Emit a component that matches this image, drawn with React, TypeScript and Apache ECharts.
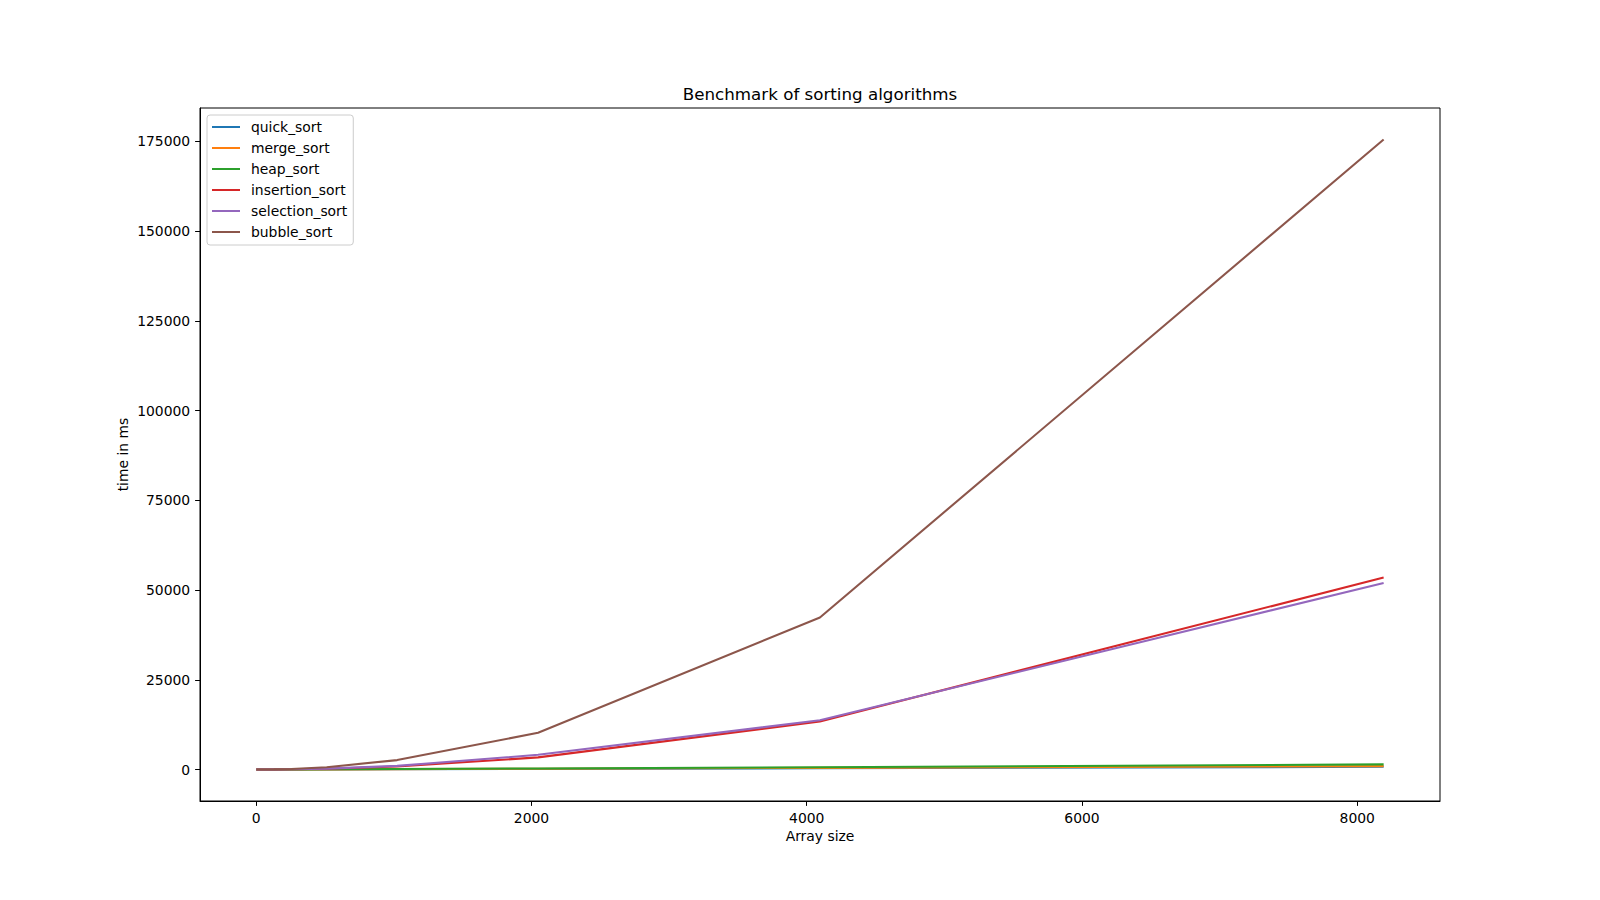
import React, { useEffect, useRef } from "react";
import * as echarts from "echarts";

const arraySizes = [1, 2, 4, 8, 16, 32, 64, 128, 256, 512, 1024, 2048, 4096, 8192];
const quickSort = [0, 0, 0.01, 0.02, 0.05, 0.1, 0.3, 1, 10, 30, 75, 160, 350, 750];
const mergeSort = [0, 0, 0.01, 0.03, 0.08, 0.2, 0.5, 2, 15, 45, 100, 220, 450, 950];
const heapSort = [0, 0, 0.01, 0.04, 0.1, 0.3, 0.8, 3, 20, 60, 140, 300, 650, 1420];
const insertionSort = [0, 0, 0.01, 0.05, 0.2, 0.8, 3, 12, 50, 210, 850, 3370, 13360, 53480];
const selectionSort = [0, 0, 0.01, 0.06, 0.25, 1, 4, 15, 60, 250, 1000, 4090, 13700, 51980];
const bubbleSort = [0, 0, 0.02, 0.1, 0.4, 1.6, 8, 40, 160, 650, 2620, 10220, 42340, 175500];

const xTicks = [0, 2000, 4000, 6000, 8000];
const yTicks = [0, 25000, 50000, 75000, 100000, 125000, 150000, 175000];

const seriesDefs = [
  { name: "quick_sort", values: quickSort, color: "#1f77b4" },
  { name: "merge_sort", values: mergeSort, color: "#ff7f0e" },
  { name: "heap_sort", values: heapSort, color: "#2ca02c" },
  { name: "insertion_sort", values: insertionSort, color: "#d62728" },
  { name: "selection_sort", values: selectionSort, color: "#9467bd" },
  { name: "bubble_sort", values: bubbleSort, color: "#8c564b" },
];

const FONT = "DejaVu Sans";

export default function App() {
  const ref = useRef<HTMLDivElement>(null);
  useEffect(() => {
    if (!ref.current) return;
    const chart = echarts.init(ref.current, null, { renderer: "svg" });
    const xMinData = arraySizes[0];
    const xMaxData = arraySizes[arraySizes.length - 1];
    const xPad = (xMaxData - xMinData) * 0.05;
    let yMaxData = 0;
    let yMinData = Infinity;
    seriesDefs.forEach((s) => s.values.forEach((v) => { yMaxData = Math.max(yMaxData, v); yMinData = Math.min(yMinData, v); }));
    const yPad = (yMaxData - yMinData) * 0.05;

    chart.setOption({
      animation: false,
      backgroundColor: "#ffffff",
      textStyle: { fontFamily: FONT },
      title: {
        text: "Benchmark of sorting algorithms",
        left: 820,
        top: 84,
        textAlign: "center",
        textStyle: { fontFamily: FONT, fontSize: 16.7, fontWeight: "normal", color: "#000", lineHeight: 20 },
        padding: 0,
      },
      grid: {
        left: 200,
        right: 160,
        top: 108,
        bottom: 99,
        show: true,
        borderColor: "#000",
        borderWidth: 1,
        backgroundColor: "#fff",
        containLabel: false,
      },
      legend: {
        orient: "vertical",
        left: 207,
        top: 115,
        padding: [5, 6, 6, 5],
        itemWidth: 28,
        itemHeight: 2,
        itemGap: 7.0,
        icon: "rect",
        backgroundColor: "rgba(255,255,255,0.8)",
        borderColor: "#cccccc",
        borderWidth: 1,
        borderRadius: 3,
        textStyle: { fontFamily: FONT, fontSize: 13.9, color: "#000", lineHeight: 14, padding: [0, 0, 0, 6] },
        data: seriesDefs.map((s) => s.name),
      },
      xAxis: {
        type: "value",
        min: xMinData - xPad,
        max: xMaxData + xPad,
        name: "Array size",
        nameLocation: "middle",
        nameGap: 28,
        nameMoveOverlap: false,
        nameTextStyle: { fontFamily: FONT, fontSize: 13.9, color: "#000" },
        axisLine: { show: true, onZero: false, lineStyle: { color: "#000", width: 1 } },
        axisTick: { show: true, inside: false, length: 4.9, lineStyle: { color: "#000", width: 1 }, customValues: xTicks },
        axisLabel: { show: true, margin: 9.8, fontFamily: FONT, fontSize: 13.9, color: "#000", customValues: xTicks, formatter: (v: number) => String(v) },
        splitLine: { show: false },
      },
      yAxis: {
        type: "value",
        min: yMinData - yPad,
        max: yMaxData + yPad,
        name: "time in ms",
        nameLocation: "middle",
        nameGap: 70,
        nameMoveOverlap: false,
        nameTextStyle: { fontFamily: FONT, fontSize: 13.9, color: "#000" },
        axisLine: { show: true, onZero: false, lineStyle: { color: "#000", width: 1 } },
        axisTick: { show: true, inside: false, length: 4.9, lineStyle: { color: "#000", width: 1 }, customValues: yTicks },
        axisLabel: { show: true, margin: 9.8, fontFamily: FONT, fontSize: 13.9, color: "#000", customValues: yTicks, formatter: (v: number) => String(v) },
        splitLine: { show: false },
      },
      series: seriesDefs.map((s) => ({
        name: s.name,
        type: "line",
        data: arraySizes.map((x, i) => [x, s.values[i]]),
        showSymbol: false,
        symbol: "none",
        color: s.color,
        lineStyle: { color: s.color, width: 2.08 },
        itemStyle: { color: s.color },
      })),
    });
    return () => chart.dispose();
  }, []);
  return <div ref={ref} style={{ position: "fixed", left: 0, top: 0, width: 1600, height: 900 }} />;
}
